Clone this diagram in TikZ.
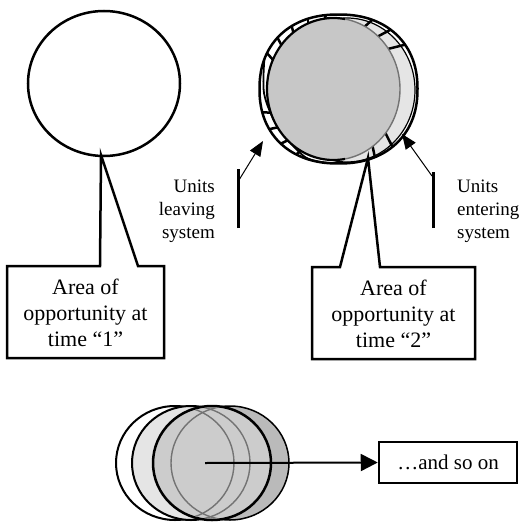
\documentclass[tikz,border=0pt]{standalone}
\usepackage{fontspec}
\setmainfont{Liberation Serif}
\usetikzlibrary{arrows.meta}
\newcommand\outerpath{plot[domain=0:360,samples=120,smooth cycle] ({338.5+79*cos(\x)*pow(abs(cos(\x))+0.0001,-0.1)},{89+74.5*sin(\x)*pow(abs(sin(\x))+0.0001,-0.1)})}
\begin{document}
\begin{tikzpicture}[x=1pt,y=-1pt,
  thickline/.style={line width=2.5pt},
  callout/.style={draw,fill=white,line width=2.5pt,line join=miter},
  boxtext/.style={font=\fontsize{22}{26}\selectfont,align=center,inner sep=0pt},
  unittext/.style={font=\fontsize{19}{23}\selectfont,inner sep=0pt},
  leader/.style={line width=1pt,-{Triangle[length=15pt,width=12pt]}},
  post/.style={line width=3pt},
  rung/.style={line width=2.5pt},
  ghost/.style={black!55,line width=1.4pt},
]
\useasboundingbox (0,0) rectangle (522,522);

% ---- time 1 circle
\draw[thickline,fill=white] (104,83.5) ellipse [x radius=76, y radius=72.5];

% ---- time 2 circles
\fill[white] \outerpath;
\begin{scope}
  \clip \outerpath;
  \foreach \a in {200,214,228,242,256,112,126,140,154}
    \draw[rung] (334,89) ++(\a:55) -- ++(\a+28:50);
  \draw[line width=1.2pt,fill=black!10] (347,90) ellipse [x radius=68, y radius=72];
  \foreach \a in {290,304,318,35,50}
    \draw[rung] (334,89) ++(\a:55) -- ++(\a+28:50);
  \draw[line width=1.8pt] plot[smooth] coordinates {(265,50) (264,93) (278,127) (305,157) (330,163)};
\end{scope}
\fill[black!22] (333.5,89) ellipse [x radius=66.5, y radius=71];
\begin{scope}
  \clip (0,0) rectangle (345,200);
  \draw[line width=2.2pt] (333.5,89) ellipse [x radius=66.5, y radius=71];
\end{scope}
\begin{scope}
  \clip (345,0) rectangle (522,200);
  \draw[ghost] (333.5,89) ellipse [x radius=66.5, y radius=71];
\end{scope}
\draw[thickline] \outerpath;

% ---- callouts
\draw[callout] (7,266) -- (100,266) -- (101,155) -- (138,266) -- (164,266) -- (164,358) -- (7,358) -- cycle;
\node[boxtext] (t1) at (85.5,313) {Area of\\opportunity at\\time “1”};
\draw[callout] (312,267) -- (340,267) -- (368,158) -- (380,267) -- (475,267) -- (475,359) -- (312,359) -- cycle;
\node[boxtext] (t2) at (393.5,314) {Area of\\opportunity at\\time “2”};

% ---- units leaving / entering
\node[unittext,align=right,anchor=east] (lv) at (215,211) {Units\\leaving\\system};
\node[unittext,align=left,anchor=west] (en) at (457,211) {Units\\entering\\system};
\coordinate (lvbot) at (238,228);
\coordinate (lvtop) at (238,169);
\coordinate (lvfrom) at (239,180);
\coordinate (lvtip) at (263,141);
\draw[post] (lvbot) -- (lvtop);
\draw[leader] (lvfrom) -- (lvtip);
\coordinate (enbot) at (433,228);
\coordinate (entop) at (433,172);
\coordinate (enfrom) at (432,176);
\coordinate (entip) at (402,134);
\draw[post] (enbot) -- (entop);
\draw[leader] (enfrom) -- (entip);

% ---- stack of circles
\draw[line width=2pt,fill=white] (175,463) ellipse [x radius=59, y radius=57];
\draw[line width=2pt,fill=black!10] (191,463) ellipse [x radius=59, y radius=57];
\draw[line width=1.5pt,fill=black!27] (230,463) ellipse [x radius=59, y radius=57];
\draw[line width=2.5pt,fill=black!20] (212,463) ellipse [x radius=59, y radius=57];
\begin{scope}
  \clip (212,463) ellipse [x radius=57.5, y radius=55.5];
  \draw[ghost] (175,463) ellipse [x radius=59, y radius=57];
  \draw[ghost] (191,463) ellipse [x radius=59, y radius=57];
  \draw[ghost] (230,463) ellipse [x radius=59, y radius=57];
\end{scope}
\coordinate (sc) at (205,463);
\node[draw,line width=2.5pt,minimum width=138pt,minimum height=41pt,inner sep=0pt,
      font=\fontsize{21}{25}\selectfont] (more) at (448,462.5) {…and so on};
\draw[line width=2pt,-{Triangle[length=17pt,width=17pt]}] (sc) -- (more.west);
\end{tikzpicture}
\end{document}
